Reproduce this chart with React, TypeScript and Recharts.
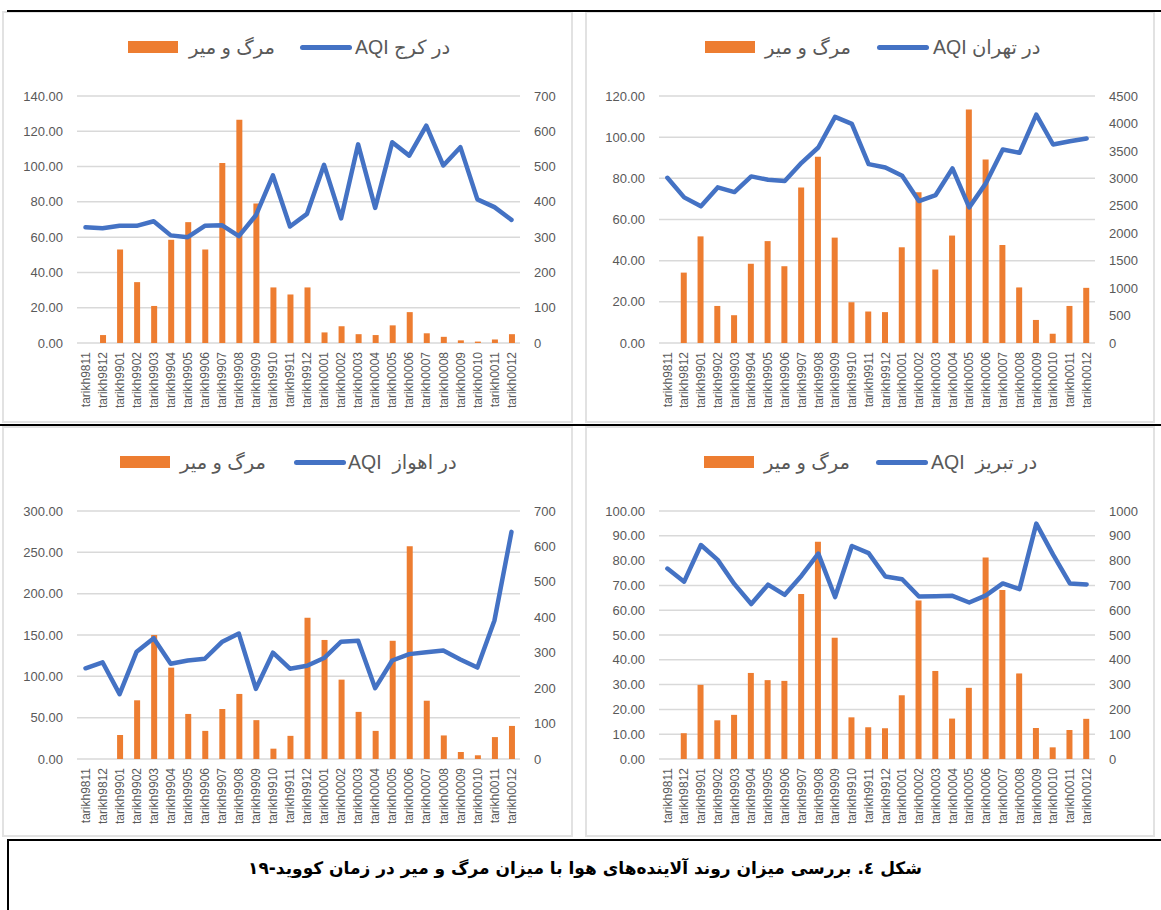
import React from 'react';
import { ComposedChart, Bar, Line, XAxis, YAxis, CartesianGrid } from 'recharts';

const categories = [
  'tarikh9811', 'tarikh9812',
  'tarikh9901', 'tarikh9902', 'tarikh9903', 'tarikh9904', 'tarikh9905', 'tarikh9906',
  'tarikh9907', 'tarikh9908', 'tarikh9909', 'tarikh9910', 'tarikh9911', 'tarikh9912',
  'tarikh0001', 'tarikh0002', 'tarikh0003', 'tarikh0004', 'tarikh0005', 'tarikh0006',
  'tarikh0007', 'tarikh0008', 'tarikh0009', 'tarikh0010', 'tarikh0011', 'tarikh0012',
];

// Karaj
const karajDeaths = [0, 4.5, 53, 34.5, 21, 58.5, 68.5, 53, 102, 126.5, 79, 31.5, 27.5, 31.5, 6, 9.5, 5, 4.5, 10, 17.5, 5.5, 3.5, 1.5, 0.8, 2, 5];
const karajAqi = [328, 325, 332, 332, 345, 305, 300, 332, 334, 303, 362, 475, 330, 366, 505, 353, 563, 383, 569, 531, 616, 503, 555, 407, 385, 349];
const karajLeftTicks = [0, 20, 40, 60, 80, 100, 120, 140];
const karajRightTicks = [0, 100, 200, 300, 400, 500, 600, 700];

// Tehran
const tehranDeaths = [0, 34.2, 51.8, 18, 13.5, 38.5, 49.5, 37.3, 75.5, 90.5, 51.2, 19.8, 15.3, 15, 46.5, 73.2, 35.7, 52.2, 113.5, 89.2, 47.6, 27, 11.2, 4.5, 18, 26.8];
const tehranAqi = [3010, 2653, 2490, 2835, 2750, 3035, 2974, 2950, 3283, 3562, 4119, 3992, 3259, 3198, 3047, 2586, 2695, 3180, 2471, 2913, 3525, 3465, 4161, 3616, 3677, 3725];
const tehranLeftTicks = [0, 20, 40, 60, 80, 100, 120];
const tehranRightTicks = [0, 500, 1000, 1500, 2000, 2500, 3000, 3500, 4000, 4500];

// Ahvaz
const ahvazDeaths = [0, 0, 29, 71, 150, 110.5, 54.5, 34, 60.5, 78.7, 47, 12.5, 28, 171, 144, 96, 57, 34, 143, 257.5, 70.5, 28.5, 8.5, 4.5, 26.5, 40];
const ahvazAqi = [256, 273, 183, 303, 341, 269, 278, 283, 330, 354, 198, 300, 255, 263, 285, 331, 334, 200, 278, 296, 301, 306, 281, 258, 391, 641];
const ahvazLeftTicks = [0, 50, 100, 150, 200, 250, 300];
const ahvazRightTicks = [0, 100, 200, 300, 400, 500, 600, 700];

// Tabriz
const tabrizDeaths = [0, 10.4, 29.9, 15.6, 17.8, 34.7, 31.8, 31.5, 66.5, 87.6, 48.9, 16.8, 12.8, 12.4, 25.7, 63.9, 35.5, 16.3, 28.7, 81.2, 68.1, 34.5, 12.5, 4.7, 11.7, 16.2];
const tabrizAqi = [768, 715, 863, 803, 705, 625, 703, 662, 739, 828, 653, 859, 830, 736, 725, 655, 656, 658, 631, 660, 708, 685, 949, 824, 708, 704];
const tabrizLeftTicks = [0, 10, 20, 30, 40, 50, 60, 70, 80, 90, 100];
const tabrizRightTicks = [0, 100, 200, 300, 400, 500, 600, 700, 800, 900, 1000];

const deathsLabel = 'مرگ و میر';
const caption = 'شکل ٤. بررسی میزان روند آلاینده‌های هوا با میزان مرگ و میر در زمان کووید-۱۹';

const BAR_COLOR = '#ED7D31';
const LINE_COLOR = '#4472C4';
const GRID_COLOR = '#d9d9d9';
const TEXT_COLOR = '#595959';
const FONT = '"Liberation Sans", "DejaVu Sans", Arial, sans-serif';

type PanelProps = {
  box: { l: number; t: number; r: number; b: number };
  plot: { l: number; t: number; r: number; b: number };
  deaths: number[];
  aqi: number[];
  leftTicks: number[];
  rightTicks: number[];
  aqiLabel: string;
  legend: { rect: number; text1: number; line: number; text2: number; cy: number };
};

const XTick = (props: any) => {
  const { x, y, payload } = props;
  return (
    <g transform={`translate(${x},${y + 9}) rotate(-90)`}>
      <text textAnchor="end" dy="0.35em" fill={TEXT_COLOR} fontSize={12} fontFamily={FONT}>
        {payload.value}
      </text>
    </g>
  );
};

function Panel({ box, plot, deaths, aqi, leftTicks, rightTicks, aqiLabel, legend }: PanelProps) {
  const data = categories.map((c, i) => ({ date: c, deaths: deaths[i], aqi: aqi[i] }));
  const w = box.r - box.l;
  const h = box.b - box.t;
  const lmax = leftTicks[leftTicks.length - 1];
  const rmax = rightTicks[rightTicks.length - 1];
  const textStyle: React.CSSProperties = {
    position: 'absolute',
    top: legend.cy - 12,
    height: 24,
    lineHeight: '24px',
    fontSize: 19.5,
    fontFamily: FONT,
    color: TEXT_COLOR,
    whiteSpace: 'pre',
    direction: 'ltr',
  };
  return (
    <>
      <div
        style={{
          position: 'absolute',
          left: box.l - 2,
          top: box.t - 1,
          width: w + 2,
          height: h + 1,
          border: '2px solid #e2e2e2',
          boxSizing: 'border-box',
          background: '#fff',
        }}
      />
      <div style={{ position: 'absolute', left: box.l, top: box.t, width: w, height: h }}>
        <ComposedChart
          width={w}
          height={h}
          data={data}
          margin={{ top: plot.t - box.t, right: 0, bottom: 0, left: 0 }}
        >
          <CartesianGrid yAxisId="left" vertical={false} stroke={GRID_COLOR} strokeWidth={1.5} />
          <XAxis
            dataKey="date"
            interval={0}
            height={box.b - plot.b}
            tickSize={0}
            tickMargin={0}
            axisLine={false}
            tickLine={false}
            tick={<XTick />}
          />
          <YAxis
            yAxisId="left"
            orientation="left"
            width={plot.l - box.l}
            domain={[0, lmax]}
            ticks={leftTicks}
            interval={0}
            tickFormatter={(v: number) => v.toFixed(2)}
            axisLine={false}
            tickLine={false}
            tickSize={0}
            tickMargin={14}
            tick={{ fill: TEXT_COLOR, fontSize: 13, fontFamily: FONT }}
          />
          <YAxis
            yAxisId="right"
            orientation="right"
            width={box.r - plot.r}
            domain={[0, rmax]}
            ticks={rightTicks}
            interval={0}
            axisLine={false}
            tickLine={false}
            tickSize={0}
            tickMargin={14}
            tick={{ fill: TEXT_COLOR, fontSize: 13, fontFamily: FONT, textAnchor: 'start' }}
          />
          <Bar yAxisId="left" dataKey="deaths" fill={BAR_COLOR} barSize={6} isAnimationActive={false} />
          <Line
            yAxisId="right"
            type="linear"
            dataKey="aqi"
            stroke={LINE_COLOR}
            strokeWidth={4.5}
            strokeLinejoin="round"
            strokeLinecap="round"
            dot={false}
            activeDot={false}
            isAnimationActive={false}
          />
        </ComposedChart>
      </div>
      <div
        style={{
          position: 'absolute',
          left: legend.rect,
          top: legend.cy - 6,
          width: 50,
          height: 12,
          background: BAR_COLOR,
        }}
      />
      <div style={{ ...textStyle, left: legend.text1 }}>{deathsLabel}</div>
      <div
        style={{
          position: 'absolute',
          left: legend.line,
          top: legend.cy - 2.5,
          width: 52,
          height: 5,
          borderRadius: 3,
          background: LINE_COLOR,
        }}
      />
      <div style={{ ...textStyle, left: legend.text2 }}>{aqiLabel}</div>
    </>
  );
}

export default function App() {
  return (
    <div
      style={{
        position: 'absolute',
        left: 0,
        top: 0,
        width: 1161,
        height: 910,
        background: '#fff',
        overflow: 'hidden',
      }}
    >
      <Panel
        box={{ l: 4, t: 12, r: 573, b: 423 }}
        plot={{ l: 77, t: 96, r: 520, b: 343 }}
        deaths={karajDeaths}
        aqi={karajAqi}
        leftTicks={karajLeftTicks}
        rightTicks={karajRightTicks}
        aqiLabel="AQI در کرج"
        legend={{ rect: 128, text1: 189, line: 300, text2: 355, cy: 47 }}
      />
      <Panel
        box={{ l: 587, t: 12, r: 1155, b: 423 }}
        plot={{ l: 659, t: 96, r: 1095, b: 343 }}
        deaths={tehranDeaths}
        aqi={tehranAqi}
        leftTicks={tehranLeftTicks}
        rightTicks={tehranRightTicks}
        aqiLabel="AQI در تهران"
        legend={{ rect: 705, text1: 765, line: 877, text2: 933, cy: 47 }}
      />
      <Panel
        box={{ l: 4, t: 427, r: 573, b: 837 }}
        plot={{ l: 77, t: 511, r: 520, b: 759 }}
        deaths={ahvazDeaths}
        aqi={ahvazAqi}
        leftTicks={ahvazLeftTicks}
        rightTicks={ahvazRightTicks}
        aqiLabel="AQI  در اهواز"
        legend={{ rect: 120, text1: 180, line: 294, text2: 348, cy: 462 }}
      />
      <Panel
        box={{ l: 587, t: 427, r: 1155, b: 837 }}
        plot={{ l: 659, t: 511, r: 1095, b: 759 }}
        deaths={tabrizDeaths}
        aqi={tabrizAqi}
        leftTicks={tabrizLeftTicks}
        rightTicks={tabrizRightTicks}
        aqiLabel="AQI  در تبریز"
        legend={{ rect: 704, text1: 764, line: 876, text2: 931, cy: 462 }}
      />
      <div style={{ position: 'absolute', left: 7, top: 10, width: 1154, height: 2, background: '#000' }} />
      <div style={{ position: 'absolute', left: 0, top: 424, width: 1161, height: 2, background: '#000' }} />
      <div style={{ position: 'absolute', left: 7, top: 839, width: 1154, height: 2, background: '#000' }} />
      <div style={{ position: 'absolute', left: 7, top: 839, width: 2, height: 71, background: '#000' }} />
      <div
        style={{
          position: 'absolute',
          left: 9,
          top: 854,
          width: 1152,
          height: 28,
          lineHeight: '28px',
          textAlign: 'center',
          direction: 'rtl',
          fontFamily: '"DejaVu Sans", sans-serif',
          fontWeight: 'bold',
          fontSize: 17,
          color: '#000',
        }}
      >
        {caption}
      </div>
    </div>
  );
}
